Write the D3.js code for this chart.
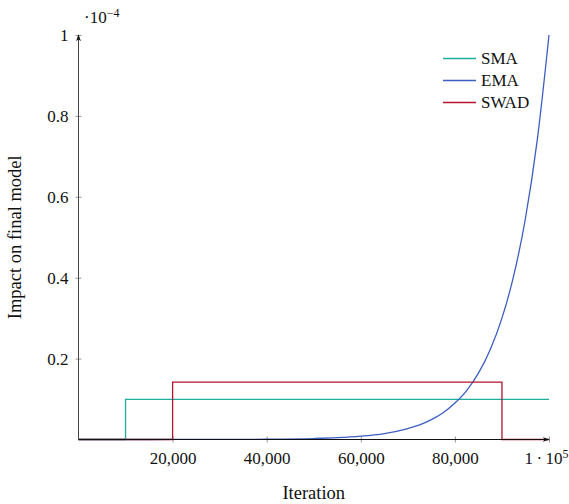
<!DOCTYPE html>
<html><head><meta charset="utf-8">
<script src="https://cdn.jsdelivr.net/npm/d3@7"></script>
<style>
body{margin:0;background:#fff;}
text{font-family:"Liberation Serif","DejaVu Serif",serif;fill:#111;}
</style></head>
<body><svg id="c" width="569" height="504"></svg>
<script>
// Data (values in units of 1e-4)
const xTicks = [20000, 40000, 60000, 80000, 100000];
const yTicks = [0.2, 0.4, 0.6, 0.8, 1];
const smaX = [0, 10000, 10000, 100000];
const smaY = [0, 0, 0.099, 0.099];
const swadX = [0, 20000, 20000, 90000, 90000, 100000];
const swadY = [0, 0, 0.142, 0.142, 0, 0];
const emaX = [0, 10000, 20000, 30000, 40000, 50000, 55000, 60000, 65000, 70000, 72500, 75000, 77500, 80000, 82500, 85000, 87500, 90000, 92500, 95000, 97500, 100000];
const emaY = [0, 0, 0.0001, 0.0002, 0.0007, 0.0024, 0.0044, 0.0081, 0.0147, 0.027, 0.036, 0.049, 0.066, 0.090, 0.121, 0.164, 0.222, 0.300, 0.405, 0.547, 0.740, 1.0];
const seriesNames = ["SMA", "EMA", "SWAD"];
const colors = ["#1fae9a", "#3d5ec0", "#b2152f"];

const svg = d3.select("#c");
const x = d3.scaleLinear().domain([0, 100000]).range([78.5, 549]);
const y = d3.scaleLinear().domain([0, 1]).range([439.5, 35]);

const line = d3.line().x(d => x(d[0])).y(d => y(d[1]));
const zip = (a, b) => a.map((v, i) => [v, b[i]]);

// ticks
const gx = svg.append("g").attr("transform", `translate(0,${y(0)})`)
  .call(d3.axisBottom(x).tickValues(xTicks).tickSize(3).tickSizeOuter(0)
    .tickFormat(d => d === 100000 ? "" : d3.format(",")(d)));
gx.select(".domain").remove();
gx.selectAll(".tick line").attr("y1", -3).attr("stroke", "#999");
gx.selectAll(".tick text").attr("y", 24).attr("dy", 0).style("font-size", "17px").attr("fill", "#111");
gx.selectAll(".tick").filter(d => d === 100000).select("text")
  .attr("text-anchor", "end").attr("x", 19)
  .call(t => { t.append("tspan").text("1\u2009·\u200910"); t.append("tspan").attr("dy", "-0.45em").style("font-size", "12px").text("5"); });

const gy = svg.append("g").attr("transform", `translate(${x(0)},0)`)
  .call(d3.axisLeft(y).tickValues(yTicks).tickSize(3).tickSizeOuter(0)
    .tickFormat(d => d === 1 ? "1" : d3.format(".1f")(d)));
gy.select(".domain").remove();
gy.selectAll(".tick line").attr("x1", 3).attr("x2", -3).attr("stroke", "#999");
gy.selectAll(".tick text").attr("x", -10).style("font-size", "17px").attr("fill", "#111");

// series
const series = [zip(smaX, smaY), zip(emaX, emaY), zip(swadX, swadY)];
series.forEach((s, i) => {
  svg.append("path").attr("d", i === 1 ? d3.line().x(d => x(d[0])).y(d => y(d[1])).curve(d3.curveMonotoneX)(s) : line(s))
    .attr("fill", "none").attr("stroke", colors[i]).attr("stroke-width", 1.3);
});

// axes lines with arrows
const defs = svg.append("defs");
defs.append("marker").attr("id", "arr").attr("viewBox", "0 0 10 10").attr("refX", 9).attr("refY", 5)
  .attr("markerWidth", 7).attr("markerHeight", 7).attr("orient", "auto")
  .append("path").attr("d", "M0,1.5 L10,5 L0,8.5 L3,5 Z").attr("fill", "#111");
svg.append("line").attr("x1", x(0)).attr("x2", x(100000)).attr("y1", y(0)).attr("y2", y(0))
  .attr("stroke", "#111").attr("stroke-width", 1).attr("marker-end", "url(#arr)");
svg.append("line").attr("x1", x(0)).attr("x2", x(0)).attr("y1", y(0)).attr("y2", y(1))
  .attr("stroke", "#444").attr("stroke-width", 1).attr("marker-end", "url(#arr)");

// scale label
const sl = svg.append("text").attr("x", 84).attr("y", 23).style("font-size", "17px");
sl.append("tspan").text("·10");
sl.append("tspan").attr("dy", "-0.5em").style("font-size", "12px").text("−4");

// axis titles
svg.append("text").attr("x", (x(0) + x(100000)) / 2).attr("y", 499).attr("text-anchor", "middle")
  .style("font-size", "18.5px").text("Iteration");
svg.append("text").attr("transform", `translate(21,${(y(0) + y(1)) / 2}) rotate(-90)`)
  .attr("text-anchor", "middle").style("font-size", "18.5px").text("Impact on final model");

// legend
const lg = svg.append("g");
seriesNames.forEach((n, i) => {
  const yy = 58.5 + i * 22;
  lg.append("line").attr("x1", 443).attr("x2", 476).attr("y1", yy).attr("y2", yy)
    .attr("stroke", colors[i]).attr("stroke-width", 1.3);
  lg.append("text").attr("x", 481).attr("y", yy).attr("dy", "0.35em").style("font-size", "17px").text(n);
});
</script></body></html>
